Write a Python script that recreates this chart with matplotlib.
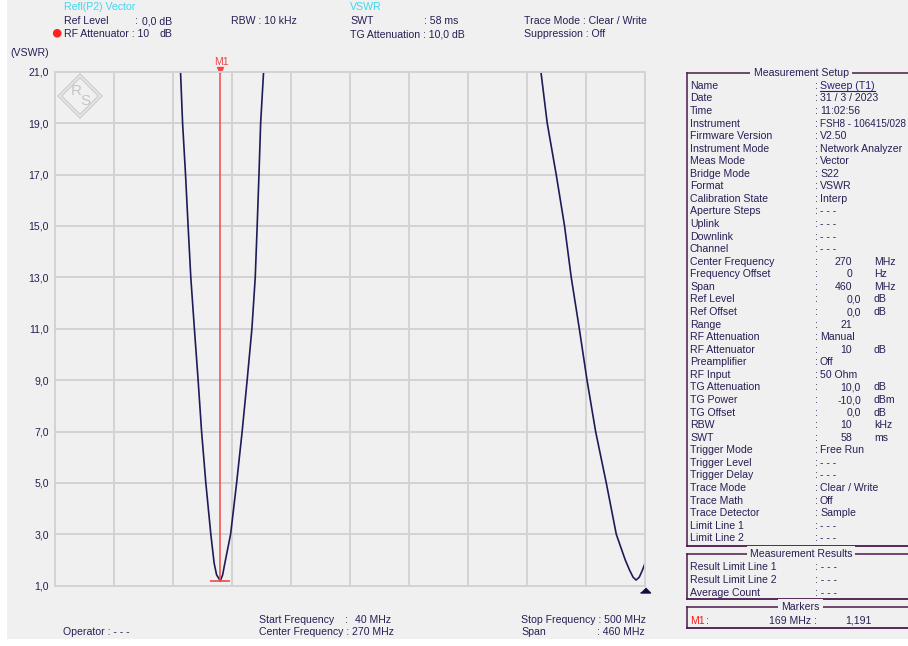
import numpy as np
import matplotlib
matplotlib.use("Agg")
import matplotlib.pyplot as plt
from matplotlib.patches import Rectangle, Polygon, Circle
from matplotlib.transforms import offset_copy

plt.rcParams['font.family'] = ['Liberation Sans', 'DejaVu Sans']

# sweep settings
f_start = 40
f_stop = 500
f_center = 270
f_span = 460
vswr_min = 1
vswr_max = 21
vswr_ticks = [1, 3, 5, 7, 9, 11, 13, 15, 17, 19, 21]

# first resonance, both flanks (MHz / VSWR)
dip1_freq = [138.0, 139.6, 141.9, 143.9, 146.0, 148.8, 151.7, 154.4, 157.7, 161.6,
             164.2, 166.1, 169.0, 170.8, 172.5, 177.0, 181.7, 186.0, 189.9, 193.6,
             196.2, 197.7, 199.1, 200.4, 202.7]
dip1_vswr = [21, 19, 17, 15, 13, 11, 9, 7, 5, 3,
             1.87, 1.42, 1.191, 1.42, 1.87, 3, 5, 7, 9, 11,
             13, 15, 17, 19, 21]

# second resonance near the stop frequency
dip2_freq = [418.7, 423.6, 430.6, 437.1, 442.3, 448.6, 454.6, 461.3, 469.6, 477.4,
             484.4, 487.8, 490.5, 492.8, 495.3, 497.7, 500.0]
dip2_vswr = [21, 19, 17, 15, 13, 11, 9, 7, 5, 3,
             2.0, 1.6, 1.33, 1.22, 1.33, 1.6, 1.9]

m1_freq = 169
m1_vswr = 1.191

setup_labels = ['Name', 'Date', 'Time', 'Instrument', 'Firmware Version', 'Instrument Mode',
                'Meas Mode', 'Bridge Mode', 'Format', 'Calibration State', 'Aperture Steps',
                'Uplink', 'Downlink', 'Channel', 'Center Frequency', 'Frequency Offset', 'Span',
                'Ref Level', 'Ref Offset', 'Range', 'RF Attenuation', 'RF Attenuator',
                'Preamplifier', 'RF Input', 'TG Attenuation', 'TG Power', 'TG Offset', 'RBW',
                'SWT', 'Trigger Mode', 'Trigger Level', 'Trigger Delay', 'Trace Mode',
                'Trace Math', 'Trace Detector', 'Limit Line 1', 'Limit Line 2']
setup_values = ['Sweep (T1)', '31 / 3 / 2023', '11:02:56', 'FSH8 - 106415/028', 'V2.50',
                'Network Analyzer', 'Vector', 'S22', 'VSWR', 'Interp', '- - -',
                '- - -', '- - -', '- - -', '270', '0', '460',
                '0,0', '0,0', '21', 'Manual', '10',
                'Off', '50 Ohm', '10,0', '-10,0', '0,0', '10',
                '58', 'Free Run', '- - -', '- - -', 'Clear / Write',
                'Off', 'Sample', '- - -', '- - -']
setup_units = ['', '', '', '', '', '', '', '', '', '', '', '', '', '', 'MHz', 'Hz', 'MHz',
               'dB', 'dB', '', '', 'dB', '', '', 'dB', 'dBm', 'dB', 'kHz',
               'ms', '', '', '', '', '', '', '', '']

result_labels = ['Result Limit Line 1', 'Result Limit Line 2', 'Average Count']
result_values = ['- - -', '- - -', '- - -']

BG = '#f0f0f0'
TXT = '#2b1d55'
CYAN = '#3cd8ee'
RED = '#f04848'
GRID = '#d3d3d3'
TRACE = '#1c1c58'
BOX = '#4a1a4a'
FS = 7.6

W, H = 908, 646
fig = plt.figure(figsize=(W / 100, H / 100), dpi=100)
fig.patch.set_facecolor('white')

# full-size overlay in pixel units for the screen furniture
ov = fig.add_axes([0, 0, 1, 1])
ov.set_xlim(0, W)
ov.set_ylim(H, 0)
ov.axis('off')
ov.add_patch(Rectangle((7, 0), W - 7, 639, facecolor=BG, edgecolor='none'))


def put(x, y, s, color=TXT, ha='left', size=FS, **kw):
    # y is the middle of the capitals; sit the text on its baseline
    return ov.text(x, y + 3.8, s, ha=ha, va='baseline', fontsize=size, color=color, **kw)


def num(s):
    try:
        float(s.replace(',', '.'))
        return True
    except ValueError:
        return False


# header
put(64, 6.7, 'Refl(P2) Vector', color=CYAN)
put(64, 20.7, 'Ref Level')
put(134.7, 20.7, ':')
put(172.6, 20.7, '0,0 dB', ha='right')
ov.add_patch(Circle((57.2, 33.3), 3.6, color='#ff2020'))
put(64, 33.3, 'RF Attenuator : 10')
put(172.6, 33.3, 'dB', ha='right')
put(230.6, 20.7, 'RBW : 10 kHz')
put(350.2, 6.7, 'VSWR', color=CYAN)
put(350.2, 20.7, 'SWT')
put(458, 20.7, ': 58 ms', ha='right')
put(350.2, 33.3, 'TG Attenuation : 10,0 dB')
put(524.4, 20.7, 'Trace Mode : Clear / Write')
put(524.4, 33.3, 'Suppression : Off')
put(10.5, 52.7, '(VSWR)')

# R&S logo watermark
lx, ly = 80, 96
for r in (22, 18.5):
    ov.add_patch(Polygon([(lx - r, ly), (lx, ly - r), (lx + r, ly), (lx, ly + r)],
                         closed=True, fill=False, edgecolor='#cdcdcd', lw=1.0))
ov.text(lx - 4, ly - 5, 'R', fontsize=11, color='#c6c6c6', ha='center', va='center')
ov.text(lx + 5, ly + 5, 'S', fontsize=11, color='#c6c6c6', ha='center', va='center')

# bottom info line
put(258.8, 619.3, 'Start Frequency')
put(345, 619.3, ':')
put(391.4, 619.3, f'{f_start} MHz', ha='right')
put(258.8, 631.3, f'Center Frequency : {f_center} MHz')
put(521, 619.3, f'Stop Frequency : {f_stop} MHz')
put(521, 631.3, 'Span')
put(644.8, 631.3, f': {f_span} MHz', ha='right')
put(63, 631.3, 'Operator : - - -')


def group_box(top, bottom, title, cx):
    left = 686.7
    ov.plot([left, W + 5], [top, top], color=BOX, lw=1.1)
    ov.plot([left, left], [top, bottom], color=BOX, lw=1.1)
    ov.plot([left, W + 5], [bottom, bottom], color=BOX, lw=1.3)
    ov.text(cx, top, title, ha='center', va='center', fontsize=FS, color=TXT,
            bbox=dict(fc=BG, ec='none', pad=2.2))


group_box(73.3, 546, 'Measurement Setup', 801)
group_box(554, 599, 'Measurement Results', 801)
group_box(607.3, 628.3, 'Markers', 800.4)

renderer = fig.canvas.get_renderer()
for i, (lab, val, unit) in enumerate(zip(setup_labels, setup_values, setup_units)):
    y = 85 + i * 12.57
    put(690, y, lab)
    put(815, y, ':')
    if num(val):
        # numbers line up on the decimal comma
        put(860.8 if ',' in val else 852, y, val, ha='right')
        if unit:
            put(874, y, unit)
    elif i == 0:
        t = put(820, y, val, color='#23236e')
        bb = t.get_window_extent(renderer)
        ov.plot([820, 820 + bb.width], [y + 6, y + 6], color='#23236e', lw=0.8)
    else:
        size = FS if len(val) <= 16 else 7.1
        put(820, y, val, size=size)

for i, (lab, val) in enumerate(zip(result_labels, result_values)):
    y = 566.5 + i * 12.6
    put(690, y, lab)
    put(815, y, ': ' + val)

put(690, 620, 'M1', color='#ff1a1a')
put(706, 620, ':')
put(816.7, 620, f'{m1_freq} MHz :', ha='right')
put(871.7, 620, f'{m1_vswr:.3f}'.replace('.', ','), ha='right')

# measurement diagram
x0, x1, y0, y1 = 54.7, 645.3, 71.7, 585.7
ax = fig.add_axes([x0 / W, 1 - y1 / H, (x1 - x0) / W, (y1 - y0) / H])
ax.set_facecolor('none')
ax.set_xlim(f_start, f_stop)
ax.set_ylim(vswr_min, vswr_max)
ax.set_xticks(np.linspace(f_start, f_stop, 11))
ax.set_yticks(vswr_ticks)
ax.set_yticklabels([f'{v:.1f}'.replace('.', ',') for v in vswr_ticks])
ax.tick_params(length=0, labelbottom=False, labelsize=FS, labelcolor=TXT, pad=4.4)
ax.grid(color=GRID, lw=1.4)
ax.set_axisbelow(True)
for s in ax.spines.values():
    s.set_color(GRID)
    s.set_linewidth(1.4)

ax.plot(dip1_freq, dip1_vswr, color=TRACE, lw=1.2)
ax.plot(dip2_freq, dip2_vswr, color=TRACE, lw=1.2)

# marker M1
ax.plot([m1_freq, m1_freq], [m1_vswr, vswr_max], color=RED, lw=1.1)
ax.plot(m1_freq, m1_vswr, marker='_', ms=14, mew=1.2, color=RED)
ax.plot(m1_freq, vswr_max, marker='v', ms=4, color=RED, clip_on=False,
        transform=offset_copy(ax.transData, fig=fig, y=2, units='dots'))
ax.annotate('M1', (m1_freq, vswr_max), xytext=(1.5, 10), textcoords='offset pixels',
            ha='center', va='center', color=RED, fontsize=FS)

# stop frequency indicator below the axis
ax.plot(f_stop, vswr_min, marker=[(-1, -0.5), (1, -0.5), (0, 0.5)], ms=7.2,
        color='#101040', clip_on=False,
        transform=offset_copy(ax.transData, fig=fig, y=-4.5, units='dots'))

fig.savefig('out.png', dpi=100, facecolor=fig.get_facecolor())
